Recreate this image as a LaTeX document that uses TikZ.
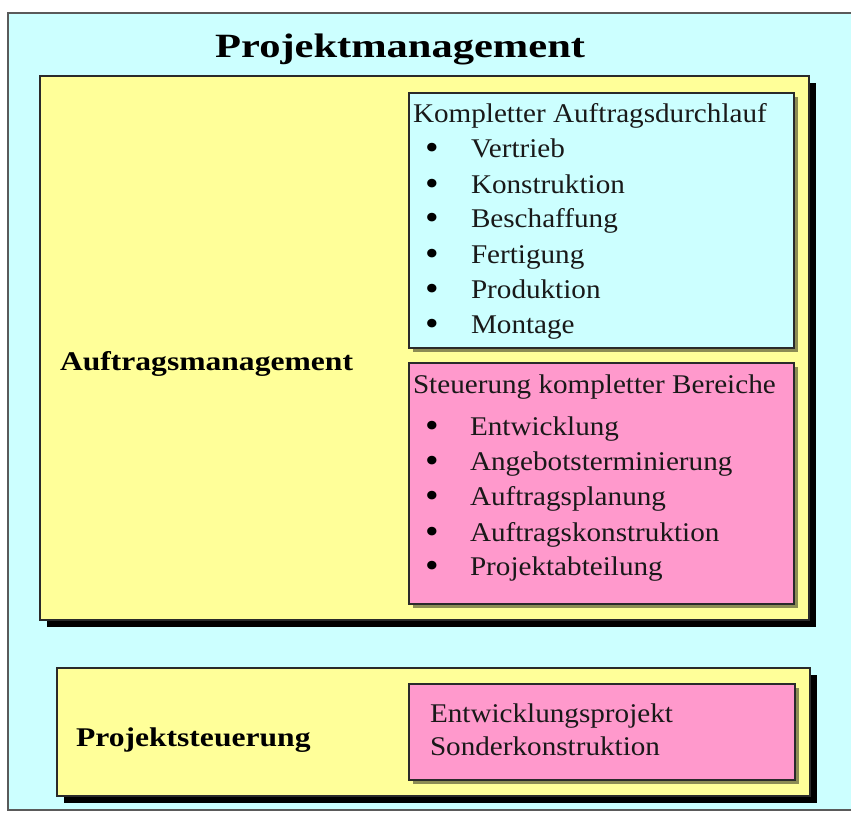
\documentclass[tikz,border=0pt]{standalone}
\usepackage{fontspec}
\setmainfont{Liberation Serif}
\newfontfamily\pmTitleFont[FakeStretch=1.25]{Liberation Serif}
\newfontfamily\pmLabelFont[FakeStretch=1.17]{Liberation Serif}
\newfontfamily\pmTextFont[FakeStretch=1.08]{Liberation Serif}
\usetikzlibrary{shadows}
\definecolor{bgcyan}{HTML}{CCFFFF}
\definecolor{boxyellow}{HTML}{FFFF99}
\definecolor{boxpink}{HTML}{FF99CC}
\definecolor{edgec}{HTML}{2A2A2A}
\definecolor{framec}{HTML}{5A5A5A}
\begin{document}
\begin{tikzpicture}[x=1pt,y=-1pt,
  box/.style={draw=edgec, line width=1.5pt, anchor=north west, inner sep=0pt, outer sep=0pt},
  bigshadow/.style={drop shadow={shadow xshift=7pt, shadow yshift=-7pt, fill=black, opacity=1}},
  smallshadow/.style={drop shadow={shadow xshift=4pt, shadow yshift=-4pt, fill=black!45!boxyellow, opacity=1}},
  txt/.style={anchor=base west, inner sep=0pt, outer sep=0pt, font=\pmTextFont\fontsize{27}{32}\selectfont, text=black!90},
  lbl/.style={anchor=base west, inner sep=0pt, outer sep=0pt, font=\pmLabelFont\bfseries\fontsize{27}{32}\selectfont},
  bul/.style={anchor=base, inner sep=0pt, outer sep=0pt, font=\pmTextFont\fontsize{36}{40}\selectfont}
]
\useasboundingbox (0,0) rectangle (851,812);
% outer frame
\node[box, draw=framec, fill=bgcyan, minimum width=850pt, minimum height=797pt] (frame) at (8,13) {};
\node[anchor=base west, inner sep=0pt, font=\pmTitleFont\bfseries\fontsize{34}{40}\selectfont] (title) at (215,57) {Projektmanagement};

% big yellow box
\node[box, bigshadow, fill=boxyellow, minimum width=769pt, minimum height=544pt] (auftrag) at (40,76) {};
\node[lbl] (auftraglbl) at (60,370) {Auftragsmanagement};

% cyan box
\node[box, smallshadow, fill=bgcyan, minimum width=385pt, minimum height=255pt] (kompl) at (409,93) {};
\node[txt] (komplhead) at (413,122) {Kompletter Auftragsdurchlauf};
\foreach \t/\y/\n in {Vertrieb/157/a, Konstruktion/193/b, Beschaffung/227/c, Fertigung/263/d, Produktion/298/e, Montage/333/f}{
  \node[bul] (kb\n) at (432,\y+2) {\textbullet};
  \node[txt] (kt\n) at (471,\y) {\t};
}

% pink box
\node[box, smallshadow, fill=boxpink, minimum width=385pt, minimum height=241pt] (steuer) at (409,363) {};
\node[txt] (steuerhead) at (413,393) {Steuerung kompletter Bereiche};
\foreach \t/\y/\n in {Entwicklung/435/a, Angebotsterminierung/470/b, Auftragsplanung/505/c, Auftragskonstruktion/541/d, Projektabteilung/575/e}{
  \node[bul] (sb\n) at (432,\y+2) {\textbullet};
  \node[txt] (st\n) at (470,\y) {\t};
}

% bottom yellow box
\node[box, bigshadow, fill=boxyellow, minimum width=753pt, minimum height=128pt] (projst) at (57,668) {};
\node[lbl] (projstlbl) at (76,746) {Projektsteuerung};

% bottom pink box
\node[box, smallshadow, fill=boxpink, minimum width=386pt, minimum height=96pt] (sonder) at (409,684) {};
\node[txt] (sonder1) at (430,722) {Entwicklungsprojekt};
\node[txt] (sonder2) at (430,755) {Sonderkonstruktion};
\end{tikzpicture}
\end{document}
